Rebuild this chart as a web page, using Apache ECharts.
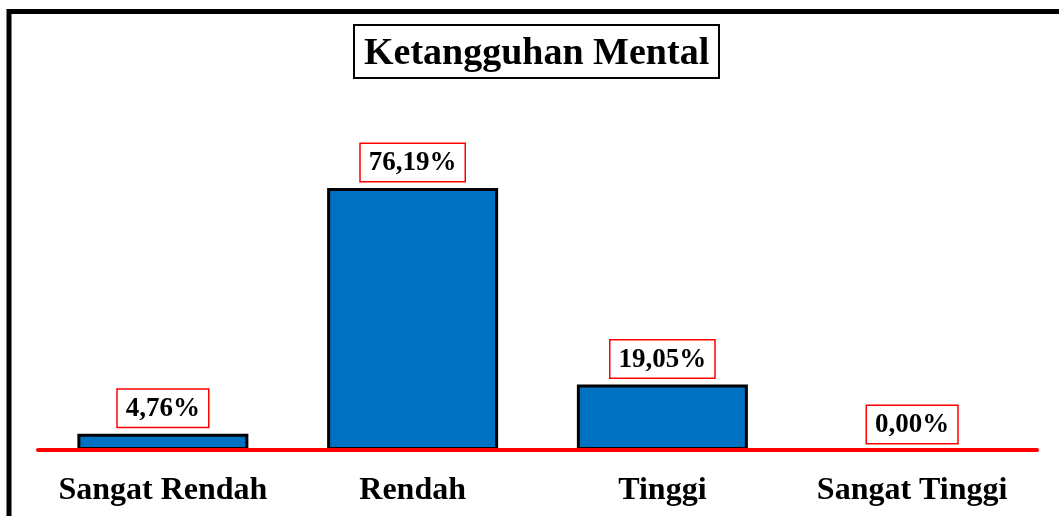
<!DOCTYPE html>
<html><head><meta charset="utf-8">
<script src="https://cdn.jsdelivr.net/npm/echarts@6/dist/echarts.min.js"></script>
<style>html,body{margin:0;padding:0;background:#fff}#c{width:1059px;height:516px}</style>
</head><body><div id="c"></div>
<script>
const titleText = 'Ketangguhan Mental';
const categories = ['Sangat Rendah', 'Rendah', 'Tinggi', 'Sangat Tinggi'];
const values = [4.76, 76.19, 19.05, 0.00];
const valueLabels = ['4,76%', '76,19%', '19,05%', '0,00%'];

const FONT = '"Liberation Serif", "Times New Roman", serif';
const chart = echarts.init(document.getElementById('c'));
chart.setOption({
  animation: false,
  backgroundColor: '#fff',
  graphic: [{
    type: 'rect', z: 100,
    shape: { x: 9, y: 11.5, width: 1200, height: 700 },
    style: { fill: 'none', stroke: '#000', lineWidth: 5 }
  }],
  title: {
    text: titleText,
    left: 354, top: 25,
    borderColor: '#000', borderWidth: 2,
    padding: [10, 10, 5, 10],
    textStyle: { fontFamily: FONT, fontWeight: 'bold', fontSize: 38, color: '#000' }
  },
  grid: { left: 38, right: 22, top: 106, bottom: 66 },
  xAxis: {
    type: 'category', data: categories, z: 5,
    axisLine: { lineStyle: { color: '#ff0000', width: 4 } },
    axisTick: { show: false },
    axisLabel: { interval: 0, fontFamily: FONT, fontWeight: 'bold', fontSize: 32, color: '#000', margin: 25 }
  },
  yAxis: { type: 'value', min: 0, max: 100, show: false, splitLine: { show: false } },
  series: [{
    type: 'bar',
    barWidth: 171,
    data: values.map((v, i) => ({
      value: v,
      itemStyle: v === 0 ? { borderWidth: 0 } : {}
    })),
    itemStyle: { color: '#0070C0', borderColor: '#000', borderWidth: 3 },
    label: {
      show: true, position: 'top', distance: 7,
      formatter: p => valueLabels[p.dataIndex],
      fontFamily: FONT, fontWeight: 'bold', fontSize: 27, color: '#000',
      backgroundColor: '#fff',
      borderColor: '#ff0000', borderWidth: 1.5,
      padding: [6, 8, 4, 8]
    }
  }]
});
</script></body></html>
